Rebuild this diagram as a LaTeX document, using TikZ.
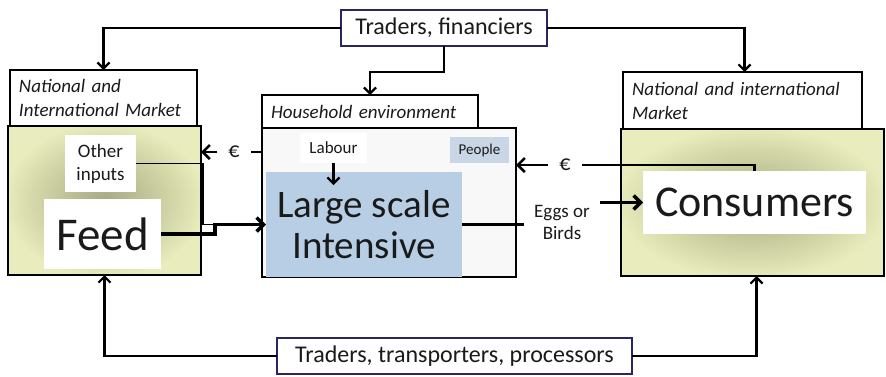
\documentclass[tikz,border=0pt]{standalone}
\usepackage{fontspec}
\setmainfont{Carlito}
\usetikzlibrary{arrows.meta,calc}
\definecolor{navy}{HTML}{2A2660}
\definecolor{olivein}{HTML}{A6A984}
\definecolor{olivemid}{HTML}{C9CD9F}
\definecolor{oliveout}{HTML}{E9ECBC}
\definecolor{lsblue}{HTML}{B8CEE4}
\definecolor{pplblue}{HTML}{C8D6E6}
\definecolor{hbgrey}{HTML}{F8F8F8}
\definecolor{ink}{HTML}{1A1A1A}
\pgfdeclareradialshading{mkt}{\pgfpoint{0bp}{0bp}}{color(0bp)=(olivein); color(14bp)=(olivemid); color(26bp)=(oliveout); color(50bp)=(oliveout)}
\newcommand{\fs}[1]{\fontsize{#1}{#1}\selectfont}
\begin{document}
\begin{tikzpicture}[x=1pt,y=-1pt,
  every node/.style={text=ink},
  frame/.style={draw=black, line width=2.2pt, inner sep=0pt, outer sep=0pt},
  actor/.style={draw=navy, line width=2pt, fill=white, inner sep=0pt, outer sep=0pt, minimum height=36pt},
  header/.style={frame, fill=white, align=left, inner xsep=9pt, font=\itshape\fs{19}, execute at begin node=\setlength{\baselineskip}{24pt}},
  market/.style={frame, shading=mkt},
  wbox/.style={fill=white, inner sep=0pt, outer sep=0pt},
  arr/.style={line width=2.2pt, -{Straight Barb[length=6pt,width=12pt]}},
  ln/.style={line width=2.2pt},
  barr/.style={line width=3.4pt, -{Straight Barb[length=7pt,width=14pt]}},
  lbl/.style={inner xsep=11pt, inner ysep=2pt, outer sep=0pt, align=center}
]
\useasboundingbox (0,0) rectangle (886,376);

% top and bottom actors
\node[actor, minimum width=206pt, font=\fs{24}] (tf) at (444,28) {Traders, financiers};
\node[actor, minimum width=355pt, font=\fs{24}] (ttp) at (454.5,356) {Traders, transporters, processors};

% left market
\node[header, minimum width=187pt, minimum height=56pt, text width=169pt] (lmh) at (103.5,98) {National and\\International Market};
\node[market, minimum width=193pt, minimum height=149pt] (lmb) at (104.5,200.5) {};
\node[wbox, minimum width=71pt, minimum height=57pt, align=center, font=\fs{19}] (oi) at (100.5,163.5) {Other\\[4pt]inputs};
\node[wbox, minimum width=117pt, minimum height=70pt, font=\fs{47}] (feed) at (102.5,234) {Feed};

% household
\node[header, minimum width=216pt, minimum height=33pt, text width=198pt] (hh) at (370,111.5) {Household environment};
\node[frame, fill=hbgrey, minimum width=254pt, minimum height=149pt] (hb) at (389,202.5) {};
\node[wbox, minimum width=67pt, minimum height=30pt, font=\fs{17}] (lab) at (333.5,148) {Labour};
\node[wbox, fill=lsblue, minimum width=196pt, minimum height=105pt, align=center, font=\fs{39}] (ls) at (364,224.5) {Large scale\\[2pt]Intensive};
\node[wbox, fill=pplblue, minimum width=59pt, minimum height=26pt, font=\fs{15}] (ppl) at (479.5,150) {People};

% right market
\node[header, minimum width=239pt, minimum height=57pt, text width=221pt] (rmh) at (742.5,100.5) {National and international\\Market};
\node[market, minimum width=263pt, minimum height=147pt] (rmb) at (752.5,202.5) {};
\node[wbox, minimum width=223pt, minimum height=63pt, font=\fs{44}] (cons) at (754.5,202.5) {Consumers};

% labels
\node[lbl, font=\fs{22}] (eurL) at (234,152) {€};
\node[lbl, font=\fs{22}] (eurR) at (565,165) {€};
\node[lbl, font=\fs{19}, inner xsep=10pt] (eggs) at (562,222) {Eggs or\\[3pt]Birds};

% top distribution
\draw[arr] (tf.west) -| (lmh.north);
\draw[arr] (tf.east) -| ([xshift=2pt]rmh.north);
\draw[arr] (tf.south) -- ++(0,26) -| (hh.north);

% bottom distribution
\draw[arr] (ttp.west) -| (lmb.south);
\draw[arr] (ttp.east) -| ([xshift=4pt]rmb.south);

% money flows
\draw[ln, line width=2.6pt] (hb.west |- eurL) -- (eurL.east);
\draw[barr, line width=2.6pt] (eurL.west) -- (lmb.east |- eurL);
\draw[ln, line width=2.6pt] (cons.north) |- (eurR.east);
\draw[barr, line width=2.6pt] (eurR.west) -- (hb.east |- eurR);

% inputs
\coordinate (fj) at (215,224.5);
\draw[line width=1.8pt] (oi.east) -| ([xshift=-12pt]fj) -- (fj);
\draw[barr] (feed.east) -| (fj) -- (ls.west);
\draw[arr] (lab.south) -- ++(0,22);

% outputs
\draw[ln, line width=3pt] (ls.east) -- (eggs.west |- ls.east);
\draw[barr] (eggs.east |- cons.west) -- (cons.west);
\end{tikzpicture}
\end{document}
